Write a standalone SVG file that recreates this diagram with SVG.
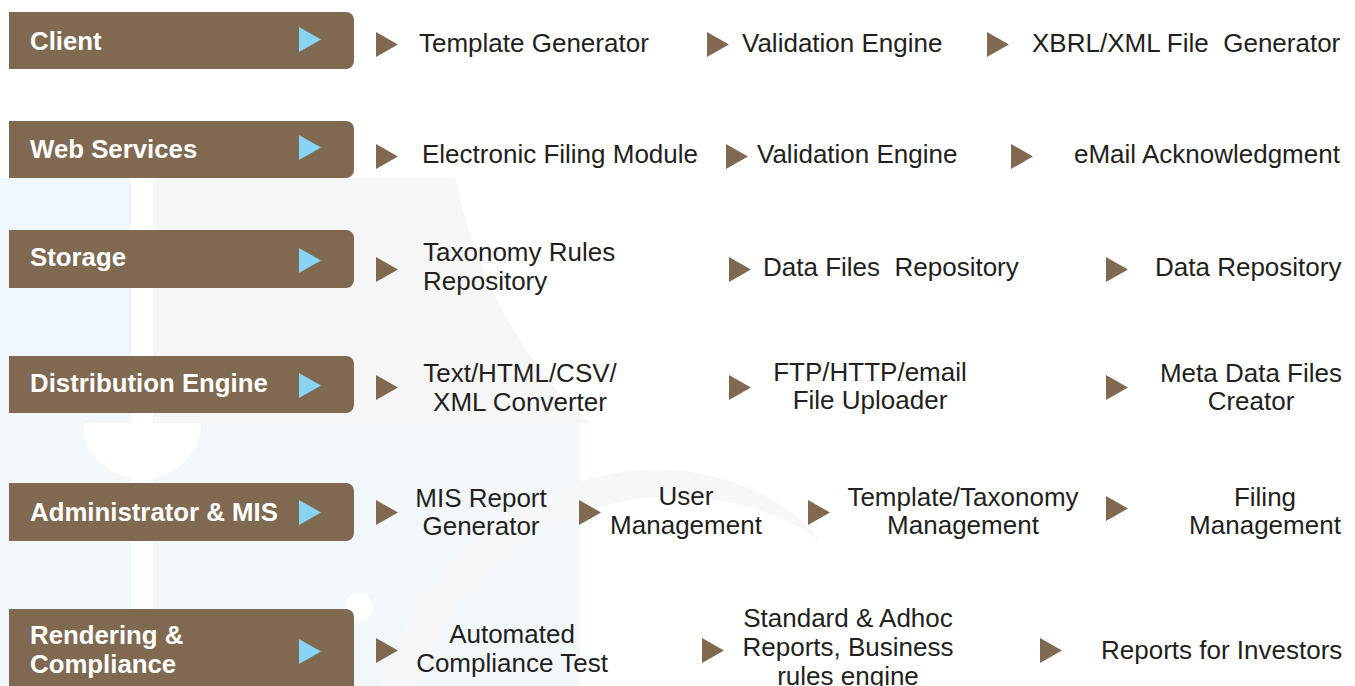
<svg xmlns="http://www.w3.org/2000/svg" xmlns:xlink="http://www.w3.org/1999/xlink" width="1355" height="686" viewBox="0 0 1355 686">
<style>
.bar{fill:#7f6951}
.lbl{font-family:"Liberation Sans",Arial,sans-serif;font-weight:bold;font-size:25.8px;fill:#ffffff}
.txt{font-family:"Liberation Sans",Arial,sans-serif;font-size:26px;fill:#231f20;white-space:pre}
.mid{text-anchor:middle}
.blue{fill:#89d4f5}
.brown{fill:#7f6951}
</style>
<defs>
<path id="tri" d="M0 0 L22 12.5 L0 25 Z"/>
</defs>
<rect x="0" y="0" width="1355" height="686" fill="#ffffff"/>
<g id="watermark">
<rect x="0" y="178" width="131" height="245" fill="#f0f7fc"/>
<path d="M153 178 H455 C480 290 530 370 590 423 H153 Z" fill="#f6f6f6"/>
<path d="M0 423 H580 V686 H0 Z" fill="#f2f7fb"/>
<path d="M83 423 A59 56 0 0 0 201 423 Z" fill="#ffffff"/>
<rect x="131" y="178" width="22" height="508" fill="#ffffff" opacity="0.85"/>
<path d="M380 686 C420 560 520 480 640 470 C720 465 790 500 820 540 C760 500 690 490 630 500 C520 520 440 600 420 686 Z" fill="#f6f7f8"/>
<circle cx="359" cy="607" r="14" fill="#ffffff"/>
</g>
<g id="client">
<path class="bar" d="M9 12 H346 A8 8 0 0 1 354 20 V61 A8 8 0 0 1 346 69 H9 Z"/>
<text class="lbl" x="30" y="50">Client</text>
<use xlink:href="#tri" class="blue" x="299" y="27"/>
</g>
<g id="web-services">
<path class="bar" d="M9 121 H346 A8 8 0 0 1 354 129 V170 A8 8 0 0 1 346 178 H9 Z"/>
<text class="lbl" x="30" y="158">Web Services</text>
<use xlink:href="#tri" class="blue" x="299" y="135"/>
</g>
<g id="storage">
<path class="bar" d="M9 230 H346 A8 8 0 0 1 354 238 V280 A8 8 0 0 1 346 288 H9 Z"/>
<text class="lbl" x="30" y="266">Storage</text>
<use xlink:href="#tri" class="blue" x="299" y="248"/>
</g>
<g id="distribution-engine">
<path class="bar" d="M9 356 H346 A8 8 0 0 1 354 364 V405 A8 8 0 0 1 346 413 H9 Z"/>
<text class="lbl" x="30" y="392">Distribution Engine</text>
<use xlink:href="#tri" class="blue" x="299" y="373"/>
</g>
<g id="administrator-mis">
<path class="bar" d="M9 483 H346 A8 8 0 0 1 354 491 V533 A8 8 0 0 1 346 541 H9 Z"/>
<text class="lbl" x="30" y="521">Administrator &amp; MIS</text>
<use xlink:href="#tri" class="blue" x="299" y="500"/>
</g>
<g id="rendering-compliance">
<path class="bar" d="M9 609 H346 A8 8 0 0 1 354 617 V700 H9 Z"/>
<text class="lbl" x="30" y="644">Rendering &amp;</text>
<text class="lbl" x="30" y="673">Compliance</text>
<use xlink:href="#tri" class="blue" x="299" y="639"/>
</g>
<g id="connectors">
<use xlink:href="#tri" class="brown" x="376" y="32"/>
<use xlink:href="#tri" class="brown" x="707" y="32"/>
<use xlink:href="#tri" class="brown" x="987" y="32"/>
<use xlink:href="#tri" class="brown" x="376" y="144"/>
<use xlink:href="#tri" class="brown" x="726" y="144"/>
<use xlink:href="#tri" class="brown" x="1011" y="144"/>
<use xlink:href="#tri" class="brown" x="376" y="257"/>
<use xlink:href="#tri" class="brown" x="729" y="257"/>
<use xlink:href="#tri" class="brown" x="1106" y="257"/>
<use xlink:href="#tri" class="brown" x="376" y="375"/>
<use xlink:href="#tri" class="brown" x="729" y="375"/>
<use xlink:href="#tri" class="brown" x="1106" y="375"/>
<use xlink:href="#tri" class="brown" x="376" y="500"/>
<use xlink:href="#tri" class="brown" x="579" y="500"/>
<use xlink:href="#tri" class="brown" x="808" y="500"/>
<use xlink:href="#tri" class="brown" x="1106" y="496"/>
<use xlink:href="#tri" class="brown" x="376" y="638"/>
<use xlink:href="#tri" class="brown" x="702" y="638"/>
<use xlink:href="#tri" class="brown" x="1040" y="638"/>
</g>
<g id="template-generator"><text class="txt" x="419" y="52">Template Generator</text></g>
<g id="validation-engine-1"><text class="txt" x="742" y="52">Validation Engine</text></g>
<g id="xbrl-generator"><text class="txt" x="1032" y="52">XBRL/XML File  Generator</text></g>
<g id="electronic-filing"><text class="txt" x="422" y="163">Electronic Filing Module</text></g>
<g id="validation-engine-2"><text class="txt" x="757" y="163">Validation Engine</text></g>
<g id="email-ack"><text class="txt" x="1074" y="163">eMail Acknowledgment</text></g>
<g id="taxonomy-repo"><text class="txt" x="423" y="261">Taxonomy Rules</text><text class="txt" x="423" y="290">Repository</text></g>
<g id="data-files-repo"><text class="txt" x="763" y="276">Data Files  Repository</text></g>
<g id="data-repo"><text class="txt" x="1155" y="276">Data Repository</text></g>
<g id="converter"><text class="txt mid" x="520" y="382">Text/HTML/CSV/</text><text class="txt mid" x="520" y="411">XML Converter</text></g>
<g id="uploader"><text class="txt mid" x="870" y="381">FTP/HTTP/email</text><text class="txt mid" x="870" y="409">File Uploader</text></g>
<g id="meta-data"><text class="txt mid" x="1251" y="382">Meta Data Files</text><text class="txt mid" x="1251" y="410">Creator</text></g>
<g id="mis-report"><text class="txt mid" x="481" y="507">MIS Report</text><text class="txt mid" x="481" y="535">Generator</text></g>
<g id="user-mgmt"><text class="txt mid" x="686" y="505">User</text><text class="txt mid" x="686" y="534">Management</text></g>
<g id="template-mgmt"><text class="txt mid" x="963" y="506">Template/Taxonomy</text><text class="txt mid" x="963" y="534">Management</text></g>
<g id="filing-mgmt"><text class="txt mid" x="1265" y="506">Filing</text><text class="txt mid" x="1265" y="534">Management</text></g>
<g id="compliance-test"><text class="txt mid" x="512" y="643">Automated</text><text class="txt mid" x="512" y="672">Compliance Test</text></g>
<g id="reports-engine"><text class="txt mid" x="848" y="627">Standard &amp; Adhoc</text><text class="txt mid" x="848" y="656">Reports, Business</text><text class="txt mid" x="848" y="685">rules engine</text></g>
<g id="reports-investors"><text class="txt" x="1101" y="659">Reports for Investors</text></g>
</svg>
